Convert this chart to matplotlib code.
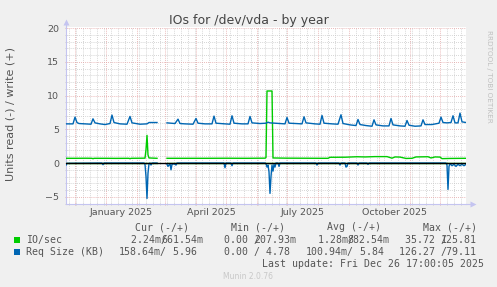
import numpy as np
import matplotlib
matplotlib.use('Agg')
import matplotlib.pyplot as plt
import matplotlib.dates as mdates
import matplotlib.transforms as mtransforms

# day offsets from the start of the 400 day window
start = np.datetime64('2024-11-21T17:00')
span_days = 400

io_w_day = [0, 10, 20, 26, 27, 28, 40, 50, 63, 64, 65, 79, 80, 81, 82, 83, 91, 96, 101, 110,
            125, 140, 160, 180, 199, 200, 201, 206, 207, 220, 240, 254, 262, 264, 279, 291,
            299, 309, 321, 326, 329, 334, 340, 346, 350, 362, 365, 369, 374, 376, 384, 400]
io_w_val = [0.70, 0.70, 0.71, 0.70, 0.64, 0.70, 0.70, 0.69, 0.70, 0.64, 0.70, 0.72, 2.0, 4.1, 1.2,
            0.75, 0.70, np.nan, 0.70, 0.70, 0.70, 0.70, 0.71, 0.70, 0.72, 0.80, 10.67, 10.67,
            0.75, 0.72, 0.71, 0.70, 0.70, 0.85, 0.86, 0.93, 0.90, 0.95, 0.95, 0.72, 0.90, 0.88,
            0.68, 0.70, 0.90, 0.93, 0.75, 0.90, 0.88, 0.65, 0.68, 0.70]

io_r_day = [0, 91, 96, 101, 400]
io_r_val = [-0.01, -0.01, np.nan, -0.01, -0.01]

req_w_day = [0, 7, 9, 11, 13, 19, 25, 27, 29, 34, 39, 44, 46, 48, 54, 61, 64, 66, 74, 81, 83,
             91, 96, 101, 109, 112, 114, 119, 127, 130, 132, 139, 146, 148, 150, 159, 164, 166,
             168, 176, 182, 184, 186, 194, 200, 202, 204, 214, 219, 221, 223, 230, 236, 238,
             240, 249, 254, 256, 258, 266, 272, 275, 277, 284, 290, 292, 294, 300, 306, 308,
             310, 317, 323, 325, 327, 334, 339, 341, 343, 349, 355, 357, 359, 366, 373, 375,
             377, 381, 385, 387, 389, 392, 394, 396, 400]
req_w_val = [5.80, 5.80, 6.80, 6.00, 5.85, 5.80, 5.75, 6.55, 5.95, 5.80, 5.70, 5.85, 7.10, 6.00,
             5.80, 5.75, 6.90, 5.95, 5.75, 5.80, 6.00, 6.00, np.nan, 5.95, 5.85, 6.50, 5.85,
             5.80, 5.75, 6.60, 5.90, 5.80, 5.80, 6.95, 5.90, 5.80, 5.75, 7.00, 5.90, 5.80,
             5.80, 6.90, 5.95, 5.85, 5.90, 6.05, 5.95, 5.85, 5.80, 6.75, 5.90, 5.85, 5.80,
             6.85, 5.95, 5.80, 5.75, 7.05, 5.90, 5.80, 5.75, 7.15, 5.85, 5.65, 5.55, 6.45,
             5.70, 5.55, 5.45, 6.40, 5.65, 5.50, 5.50, 6.60, 5.65, 5.50, 5.45, 6.30, 5.60,
             5.45, 5.50, 6.40, 5.70, 5.70, 5.90, 6.80, 6.00, 5.95, 6.00, 7.00, 5.95, 5.95,
             7.40, 6.10, 6.00]

req_r_day = [0, 1, 36, 37, 38, 78, 79, 80, 81, 82, 83, 84, 85, 86, 91, 96, 101, 102, 104, 105,
             106, 108, 110, 111, 158, 159, 160, 165, 166, 167, 199, 200, 201, 202, 203, 204,
             205, 206, 207, 208, 209, 210, 212, 213, 214, 250, 251, 252, 273, 274, 275, 279,
             280, 281, 282, 291, 292, 293, 301, 302, 303, 380, 381, 382, 383, 384, 386, 388,
             390, 392, 394, 396, 398, 400]
req_r_val = [-0.30, -0.05, 0, -0.25, 0, 0, -0.2, -2.0, -5.25, -1.5, -0.1, 0, -0.3, 0, 0, np.nan,
             -0.2, -0.5, -0.1, -1.0, -0.2, -0.1, -0.3, 0, 0, -0.7, 0, 0, -0.4, 0, 0, -0.1,
             -0.6, -0.3, -1.3, -4.5, -2.0, -0.3, -1.2, -0.2, -0.6, 0, 0, -0.5, 0, 0, -0.3, 0,
             0, -0.3, 0, 0, -0.6, -0.5, 0, 0, -0.3, 0, 0, -0.2, 0, 0, -0.3, -3.9, -0.5, -0.1,
             -0.4, -0.2, -0.5, -0.2, -0.4, -0.2, -0.4, -0.2]

label_dates = ['2025-01-16', '2025-04-16', '2025-07-16', '2025-10-16']
label_texts = ['January 2025', 'April 2025', 'July 2025', 'October 2025']

legend_names = ['IO/sec', 'Req Size (KB)']
legend_colors = ['#00CC00', '#0066B3']
col_heads = ['Cur (-/+)', 'Min (-/+)', 'Avg (-/+)', 'Max (-/+)']
row_reads = [['  2.24m/', '  0.00 /', '  1.28m/', ' 35.72 /'],
             ['158.64m/', '  0.00 /', '100.94m/', '126.27 /']]
row_writes = [['661.54m', '207.93m', '882.54m', '125.81'],
              ['  5.96', '  4.78', '  5.84', ' 79.11']]


def to_dates(days):
    return start + (np.array(days) * 24).astype('timedelta64[h]')


W, H = 497, 287
BG = '#F0F0F0'
RED = '#E3A3A3'
GREY = '#C8C8C8'
AXIS = '#C4C4F0'
TXT = '#555555'
MONO = 'DejaVu Sans Mono'


def fx(px):
    return px / W


def fy(py):
    return 1 - py / H


fig = plt.figure(figsize=(W / 100, H / 100), dpi=100, facecolor=BG)
ax = fig.add_axes([fx(66), fy(204), 400 / W, 177 / H])
ax.set_facecolor('white')

ax.plot(to_dates(io_r_day), io_r_val, color=legend_colors[0], lw=1.0, zorder=3)
ax.plot(to_dates(io_w_day), io_w_val, color=legend_colors[0], lw=1.0, zorder=3)
ax.plot(to_dates(req_r_day), req_r_val, color=legend_colors[1], lw=1.0, zorder=3)
ax.plot(to_dates(req_w_day), req_w_val, color=legend_colors[1], lw=1.0, zorder=3)
ax.axhline(0, color='black', lw=1.0, zorder=4)

ax.set_xlim(start, start + np.timedelta64(span_days, 'D'))
ax.set_ylim(-6.07, 20.15)

ax.xaxis.set_major_locator(mdates.MonthLocator())
ax.xaxis.set_minor_locator(mdates.WeekdayLocator(byweekday=mdates.MO))
ax.xaxis.set_major_formatter(plt.NullFormatter())
ax.set_yticks(np.arange(-5, 21, 5))
ax.set_yticks(np.arange(-6, 21, 1), minor=True)
ax.tick_params(axis='y', which='major', labelsize=6.8, labelcolor=TXT, pad=4)

ax.set_axisbelow(True)
ax.grid(which='minor', color=GREY, linestyle=(0, (1, 1.5)), lw=0.6)
ax.grid(which='major', color=RED, linestyle=(0, (1, 1.5)), lw=0.6)
ax.tick_params(which='major', length=2, width=0.6, color=RED, direction='inout')
ax.tick_params(which='minor', length=2, width=0.6, color=GREY, direction='inout')

for s in ['top', 'right']:
    ax.spines[s].set_visible(False)
for s in ['left', 'bottom']:
    ax.spines[s].set_color(AXIS)
    ax.spines[s].set_linewidth(0.8)
ax.plot([1.0, 1.01], [0, 0], color=AXIS, lw=0.8, transform=ax.transAxes, clip_on=False)
ax.plot([0, 0], [1.0, 1.02], color=AXIS, lw=0.8, transform=ax.transAxes, clip_on=False)
ax.plot([1.017], [0], marker='>', ms=4, color=AXIS, mec='none', transform=ax.transAxes, clip_on=False)
ax.plot([0], [1.03], marker='^', ms=4, color=AXIS, mec='none', transform=ax.transAxes, clip_on=False)

trans = mtransforms.blended_transform_factory(ax.transData, ax.transAxes)
for d, t in zip(label_dates, label_texts):
    ax.text(np.datetime64(d), -0.05, t, transform=trans, ha='center', va='center',
            fontsize=6.8, color=TXT)

fig.text(0.5, fy(24), 'IOs for /dev/vda - by year', ha='center', va='baseline',
         fontsize=9, color='#444444')
fig.text(fx(10.5), fy(114), 'Units read (-) / write (+)', rotation=90,
         ha='center', va='center', fontsize=8, color=TXT)
fig.text(fx(488.5), fy(30), 'RRDTOOL / TOBI OETIKER', rotation=270, ha='center', va='top',
         fontsize=5.2, color='#C0C0C0')

# legend table
cols = [119.2, 212.1, 305.8, 398.7]
cw = 5.97
heads = [135, 231, 326.7, 422.7]
fs = 7.15
for hx, h in zip(heads, col_heads):
    fig.text(fx(hx), fy(227), h, ha='left', va='center', fontsize=fs, family=MONO, color=TXT)
for i, (name, c) in enumerate(zip(legend_names, legend_colors)):
    yy = 240 + 12 * i
    fig.patches.append(plt.Rectangle((fx(14), fy(yy + 3)), 6 / W, 6 / H, transform=fig.transFigure,
                                     facecolor=c, edgecolor='none'))
    fig.text(fx(26), fy(yy), name, ha='left', va='center', fontsize=fs, family=MONO, color=TXT)
    for x0, r, w in zip(cols, row_reads[i], row_writes[i]):
        fig.text(fx(x0), fy(yy), r, ha='left', va='center', fontsize=fs, family=MONO, color=TXT)
        fig.text(fx(x0 + 7 * cw), fy(yy), w, ha='left', va='center', fontsize=fs, family=MONO,
                 color=TXT)
fig.text(fx(261.7), fy(264), 'Last update: Fri Dec 26 17:00:05 2025', ha='left', va='center',
         fontsize=fs, family=MONO, color=TXT)
fig.text(fx(223), fy(276.5), 'Munin 2.0.76', ha='left', va='center', fontsize=5.5,
         color='#C8C8C8')

fig.savefig('out.png', dpi=100, facecolor=BG)
